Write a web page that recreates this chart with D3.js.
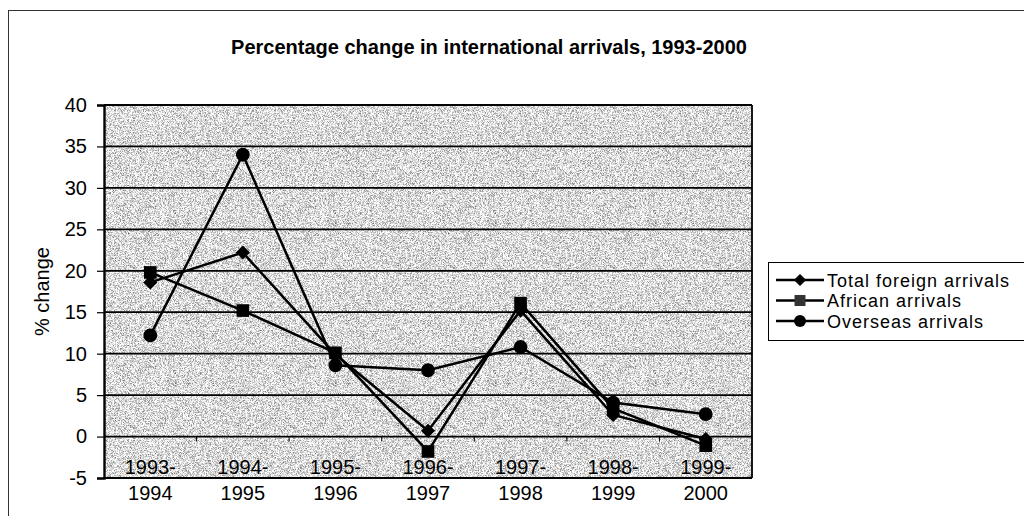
<!DOCTYPE html>
<html>
<head>
<meta charset="utf-8">
<script src="https://cdn.jsdelivr.net/npm/d3@7"></script>
<style>
  body { margin: 0; background: #fff; }
  svg text { font-family: "Liberation Sans", Arial, sans-serif; fill: #000; }
</style>
</head>
<body>
<div id="chart"></div>
<script>
// % change in arrivals
const periods = ["1993-1994", "1994-1995", "1995-1996", "1996-1997", "1997-1998", "1998-1999", "1999-2000"]
const totalForeign = [18.6, 22.2, 9.9, 0.7, 15.2, 2.6, -0.3]
const african = [19.8, 15.2, 10.1, -1.8, 16.1, 3.4, -1.1]
const overseas = [12.2, 34.0, 8.6, 8.0, 10.8, 4.1, 2.7]
const yTicks = [-5, 0, 5, 10, 15, 20, 25, 30, 35, 40]

// diamond as a square turned 45 degrees (d3's own diamond is too tall)
const squareDiamond = {
  draw(ctx, size) {
    const r = Math.sqrt(size / 2)
    ctx.moveTo(0, -r); ctx.lineTo(r, 0); ctx.lineTo(0, r); ctx.lineTo(-r, 0); ctx.closePath()
  }
}

const series = [
  { name: "Total foreign arrivals", values: totalForeign, symbol: squareDiamond, size: 100 },
  { name: "African arrivals", values: african, symbol: d3.symbolSquare, size: 160 },
  { name: "Overseas arrivals", values: overseas, symbol: d3.symbolCircle, size: 150 }
]

const W = 1024, H = 516
const plot = { left: 104, right: 752, top: 105, bottom: 478 }

const svg = d3.select("#chart").append("svg")
  .attr("width", W)
  .attr("height", H)

// grainy grey fill like the scanned original
const defs = svg.append("defs")
const f = defs.append("filter").attr("id", "grain")
  .attr("x", 0).attr("y", 0).attr("width", 1).attr("height", 1)
  .attr("color-interpolation-filters", "sRGB")
f.append("feTurbulence").attr("type", "fractalNoise")
  .attr("baseFrequency", 1.6).attr("numOctaves", 1).attr("seed", 5).attr("result", "n")
f.append("feColorMatrix").attr("in", "n").attr("type", "matrix")
  .attr("values", "1.4 0 0 0 0.16  1.4 0 0 0 0.16  1.4 0 0 0 0.16  0 0 0 0 1")

// outer chart border
svg.append("rect")
  .attr("x", 8.5).attr("y", 10.5)
  .attr("width", W + 20).attr("height", H + 20)
  .attr("fill", "none").attr("stroke", "#333").attr("stroke-width", 1)

const x = d3.scaleBand()
  .domain(periods)
  .range([plot.left, plot.right])

const y = d3.scaleLinear()
  .domain([-5, 40])
  .range([plot.bottom, plot.top])

svg.append("rect")
  .attr("x", plot.left).attr("y", plot.top)
  .attr("width", plot.right - plot.left).attr("height", plot.bottom - plot.top)
  .attr("fill", "#c8c8c8")
  .attr("filter", "url(#grain)")

// gridlines
svg.append("g")
  .selectAll("line")
  .data(yTicks)
  .join("line")
  .attr("x1", plot.left).attr("x2", plot.right)
  .attr("y1", d => y(d)).attr("y2", d => y(d))
  .attr("stroke", "#000").attr("stroke-width", 1.8)

// right border of plot
svg.append("line")
  .attr("x1", plot.right).attr("x2", plot.right)
  .attr("y1", plot.top).attr("y2", plot.bottom)
  .attr("stroke", "#000").attr("stroke-width", 1.8)

// y axis
const yAxis = svg.append("g")
  .attr("transform", "translate(" + plot.left + ",0)")
  .call(d3.axisLeft(y).tickValues(yTicks).tickSize(7).tickPadding(10).tickFormat(d => String(d)))
yAxis.select(".domain").attr("stroke", "#000").attr("stroke-width", 2.4)
yAxis.selectAll(".tick line").attr("stroke", "#000").attr("stroke-width", 1.2)
yAxis.selectAll("text").attr("font-size", 20).attr("font-family", "Liberation Sans, Arial, sans-serif")

// category ticks sit on the 0 line
svg.append("g")
  .selectAll("line")
  .data(periods.slice(1))
  .join("line")
  .attr("x1", d => x(d)).attr("x2", d => x(d))
  .attr("y1", y(0)).attr("y2", y(0) + 5)
  .attr("stroke", "#000").attr("stroke-width", 1)

// bottom edge
svg.append("line")
  .attr("x1", plot.left).attr("x2", plot.right)
  .attr("y1", plot.bottom).attr("y2", plot.bottom)
  .attr("stroke", "#000").attr("stroke-width", 2.2)

// two-line category labels
const lab = svg.append("g")
  .selectAll("text")
  .data(periods)
  .join("text")
  .attr("text-anchor", "middle")
  .attr("font-size", 20)
  .attr("transform", d => "translate(" + (x(d) + x.bandwidth() / 2) + "," + (y(0) + 37) + ")")
lab.append("tspan").attr("x", 0).attr("dy", 0).text(d => d.split("-")[0] + "-")
lab.append("tspan").attr("x", 0).attr("dy", 26).text(d => d.split("-")[1])

// y label
svg.append("text")
  .attr("transform", "translate(49," + ((plot.top + plot.bottom) / 2) + ") rotate(-90)")
  .attr("text-anchor", "middle")
  .attr("font-size", 20)
  .text("% change")

// title
svg.append("text")
  .attr("x", 489).attr("y", 54)
  .attr("text-anchor", "middle")
  .attr("font-size", 20)
  .attr("font-weight", "bold")
  .text("Percentage change in international arrivals, 1993-2000")

// lines and markers
const line = d3.line()
  .x((d, i) => x(periods[i]) + x.bandwidth() / 2)
  .y(d => y(d))

series.forEach(s => {
  svg.append("path")
    .datum(s.values)
    .attr("fill", "none")
    .attr("stroke", "#000")
    .attr("stroke-width", 2.5)
    .attr("d", line)

  svg.append("g")
    .selectAll("path")
    .data(s.values)
    .join("path")
    .attr("transform", (d, i) => "translate(" + (x(periods[i]) + x.bandwidth() / 2) + "," + y(d) + ")")
    .attr("d", d3.symbol().type(s.symbol).size(s.size))
    .attr("fill", "#000")
})

// legend
const lg = svg.append("g")
lg.append("rect")
  .attr("x", 768.5).attr("y", 262.5)
  .attr("width", 270).attr("height", 78)
  .attr("fill", "#fff").attr("stroke", "#000").attr("stroke-width", 1)

series.forEach((s, i) => {
  const ly = 280 + i * 20.5
  lg.append("line")
    .attr("x1", 776).attr("x2", 824)
    .attr("y1", ly).attr("y2", ly)
    .attr("stroke", "#000").attr("stroke-width", 2.4)
  lg.append("path")
    .attr("transform", "translate(800," + ly + ")")
    .attr("d", d3.symbol().type(s.symbol).size(s.size * 0.75))
    .attr("fill", i == 1 ? "#333" : "#000")
  lg.append("text")
    .attr("x", 827).attr("y", ly + 6.5)
    .attr("font-size", 18)
    .attr("letter-spacing", 1)
    .text(s.name)
})
</script>
</body>
</html>
